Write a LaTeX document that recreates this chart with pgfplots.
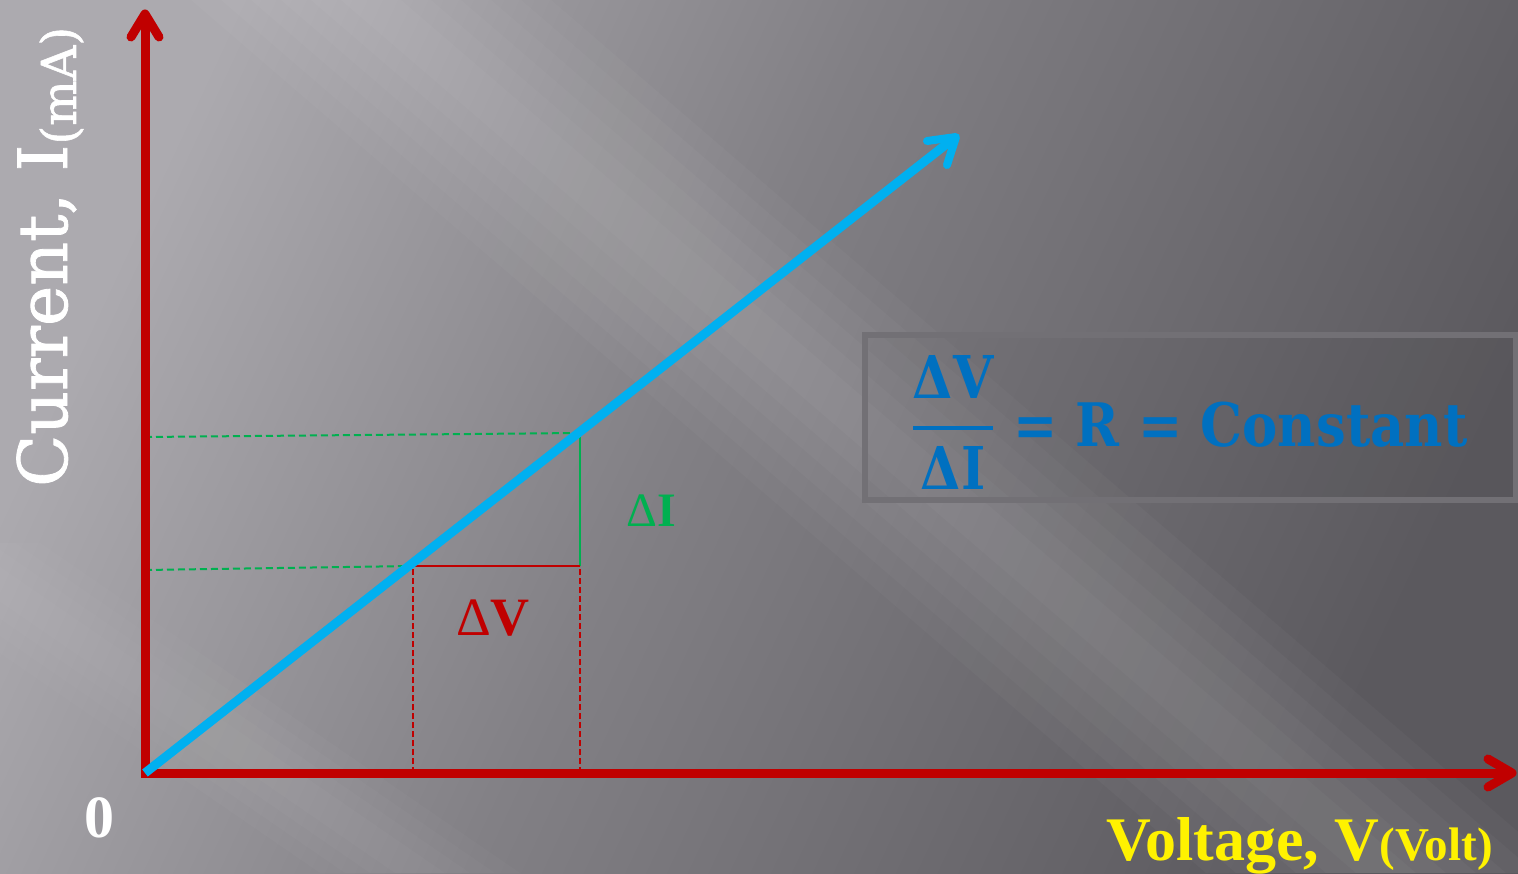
\documentclass[border=0pt]{standalone}
\usepackage{fontspec}
\setmainfont{Liberation Serif}
\newfontfamily\cam[FakeBold=1.2]{DejaVu Serif}
\newfontfamily\camb[FakeStretch=0.88]{DejaVu Serif Bold}
\usepackage{pgfplots}
\pgfplotsset{compat=1.18}
\definecolor{axred}{HTML}{C00000}
\definecolor{lineblue}{HTML}{00B0F0}
\definecolor{grn}{HTML}{00B050}
\definecolor{txtblue}{HTML}{0070C0}
\definecolor{bgL}{HTML}{ACAAAF}
\definecolor{bgM}{HTML}{828085}
\definecolor{bgR}{HTML}{5B595E}
\definecolor{boxgray}{HTML}{727075}
\pgfdeclarehorizontalshading{bgsh}{100bp}{color(0bp)=(bgL); color(25bp)=(bgL); color(47bp)=(bgM); color(75bp)=(bgR); color(100bp)=(bgR)}
\begin{document}
\begin{tikzpicture}
\useasboundingbox (0,0) rectangle (1518pt,873pt);
\shade[shading=bgsh, shading angle=-25] (0,0) rectangle (1518pt,873pt);
% soft light streaks
\begin{scope}
\clip (0,0) rectangle (1518pt,873pt);
\foreach \w in {30,60,90,120,150,180} {
  \fill[white, opacity=0.026] (371pt-\w pt,873pt) -- (371pt+\w pt,873pt) -- (1386pt+\w pt,0pt) -- (1386pt-\w pt,0pt) -- cycle;
}
\foreach \w in {25,50,75,100} {
  \fill[white, opacity=0.02] (-60pt-\w pt,330pt) -- (-60pt+\w pt,330pt) -- (420pt+\w pt,0pt) -- (420pt-\w pt,0pt) -- cycle;
}
\end{scope}
\begin{axis}[
  at={(145pt,100pt)}, anchor=south west,
  scale only axis, width=1370pt, height=761pt,
  xmin=0, xmax=13.70, ymin=0, ymax=7.61,
  axis lines=none, xtick=\empty, ytick=\empty,
  clip=false,
]
% dashed projections
\addplot[grn, line width=2pt, dash pattern=on 7pt off 4pt] coordinates {(0,3.36) (4.35,3.40)};
\addplot[grn, line width=2pt, dash pattern=on 7pt off 4pt] coordinates {(0,2.03) (2.68,2.07)};
\addplot[axred, line width=2pt, dash pattern=on 6pt off 3pt] coordinates {(2.68,0) (2.68,2.07)};
\addplot[axred, line width=2pt, dash pattern=on 6pt off 3pt] coordinates {(4.35,0) (4.35,2.07)};
\addplot[grn, line width=2pt] coordinates {(4.35,2.07) (4.35,3.40)};
\addplot[axred, line width=2.5pt] coordinates {(2.68,2.07) (4.35,2.07)};
% axes with open arrow heads
\addplot[axred, line width=9pt, line cap=butt] coordinates {(-0.045,0) (13.66,0)};
\addplot[axred, line width=9pt, line cap=round, line join=round] coordinates {(13.43,0.14) (13.67,0) (13.43,-0.14)};
\addplot[axred, line width=9pt, line cap=butt] coordinates {(0,-0.045) (0,7.56)};
\addplot[axred, line width=9pt, line cap=round, line join=round] coordinates {(-0.14,7.36) (0,7.59) (0.14,7.36)};
% I-V line
\addplot[lineblue, line width=9pt, line cap=butt] coordinates {(0,0) (8.08,6.34)};
\addplot[lineblue, line width=8pt, line cap=round, line join=round] coordinates {(7.82,6.32) (8.11,6.36) (8.02,6.08)};
% labels
\node[inner sep=0pt, text=white, font=\fontsize{60}{60}\selectfont\bfseries] at (axis cs:-0.45,-0.45) {0};
\node[inner sep=0pt, anchor=base east, text=yellow, font=\fontsize{62}{62}\selectfont\bfseries] at (axis cs:13.48,-0.87) {Voltage, V{\fontsize{47}{47}\selectfont(Volt)}};
\node[inner sep=0pt, rotate=90, anchor=base west, text=white, font=\cam\fontsize{68}{68}\selectfont] at (axis cs:-0.78,2.86) {Current, I\raisebox{-9pt}{\fontsize{48}{48}\selectfont(mA)}};
\node[inner sep=0pt, text=axred, font=\fontsize{54}{54}\selectfont] at (axis cs:3.48,1.55) {Δ\textbf{V}};
\node[inner sep=0pt, text=grn, font=\fontsize{48}{48}\selectfont] at (axis cs:5.06,2.62) {Δ\textbf{I}};
% formula box
\draw[boxgray, line width=6pt, fill=black, fill opacity=0.03] (axis cs:7.20,4.38) rectangle (axis cs:13.71,2.73);
\node[inner sep=0pt, text=txtblue, font=\camb\fontsize{59}{59}\selectfont] at (axis cs:8.08,3.96) {ΔV};
\draw[txtblue, line width=4pt] (axis cs:7.68,3.45) -- (axis cs:8.48,3.45);
\node[inner sep=0pt, text=txtblue, font=\camb\fontsize{59}{59}\selectfont] at (axis cs:8.08,3.05) {ΔI};
\node[inner sep=0pt, anchor=base west, text=txtblue, font=\camb\fontsize{60}{60}\selectfont] at (axis cs:8.68,3.26) {= R = Constant};
\end{axis}
\end{tikzpicture}
\end{document}
